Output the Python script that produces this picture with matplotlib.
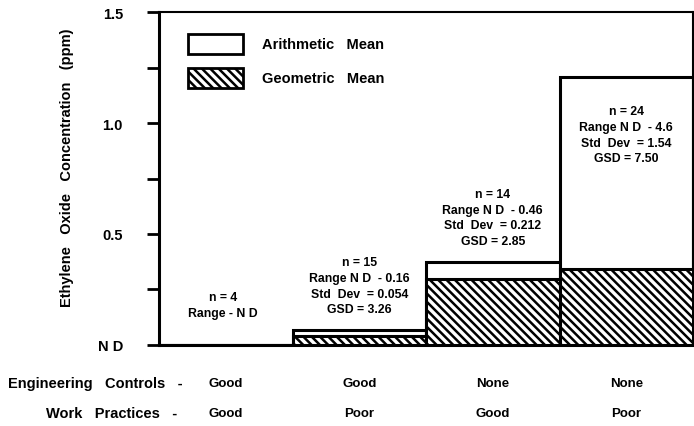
import matplotlib
matplotlib.use("Agg")
import matplotlib.pyplot as plt
from matplotlib.patches import Rectangle

plt.rcParams['font.family'] = ['Liberation Sans', 'DejaVu Sans']
plt.rcParams['font.weight'] = 'bold'
plt.rcParams['hatch.linewidth'] = 1.8

eng_controls = ["Good", "Good", "None", "None"]
work_practices = ["Good", "Poor", "Good", "Poor"]
arith_mean = [0.0, 0.068, 0.375, 1.21]
geo_mean = [0.0, 0.041, 0.296, 0.342]
stats_text = [
    ["n = 4", "Range - N D"],
    ["n = 15", "Range N D  - 0.16", "Std  Dev  = 0.054", "GSD = 3.26"],
    ["n = 14", "Range N D  - 0.46", "Std  Dev  = 0.212", "GSD = 2.85"],
    ["n = 24", "Range N D  - 4.6", "Std  Dev  = 1.54", "GSD = 7.50"],
]
text_top = [0.215, 0.373, 0.680, 1.054]
yticks = [0, 0.25, 0.5, 0.75, 1.0, 1.25, 1.5]
yticklabels = ["N D", "", "0.5", "", "1.0", "", "1.5"]

fig = plt.figure(figsize=(6.94, 4.27), dpi=100)
ax = fig.add_axes([159/694, 1-345.7/427, 534/694, (345.7-13.3)/427])
x = list(range(len(arith_mean)))
ax.bar(x, arith_mean, width=1.0, color='white', edgecolor='black', linewidth=2.2, zorder=2)
ax.bar(x, geo_mean, width=1.0, color='white', edgecolor='black', linewidth=2.2,
       hatch='\\\\\\\\', zorder=3)
ax.set_xlim(-0.5, 3.5)
ax.set_ylim(0, 1.5)
for s in ['top', 'right']:
    ax.spines[s].set_linewidth(1.5)
ax.spines['left'].set_linewidth(2.2)
ax.spines['bottom'].set_linewidth(2.2)
ax.set_xticks([])
ax.set_yticks(yticks)
ax.set_yticklabels(yticklabels, fontsize=10.5, fontweight='bold')
ax.tick_params(axis='y', length=9, width=2, pad=17)
ax.set_ylabel("Ethylene   Oxide   Concentration   (ppm)", fontsize=10.5, fontweight='bold')
ax.yaxis.set_label_coords(-0.16, 0.535)

dy = 0.071
for i, lines in enumerate(stats_text):
    for j, line in enumerate(lines):
        ax.text(i - (0.02 if i == 0 else 0), text_top[i] - j * dy, line, ha='center', va='center',
                fontsize=8.8, fontweight='bold', zorder=5)

# legend
lx0, lx1 = (188-159)/534*4 - 0.5, (243-159)/534*4 - 0.5
for yp, hatch, lab in [(1.357, None, "Arithmetic   Mean"), (1.205, '\\\\\\\\', "Geometric   Mean")]:
    r = Rectangle((lx0, yp - 0.045), lx1 - lx0, 0.09, facecolor='white', edgecolor='black',
                  linewidth=2, hatch=hatch, zorder=5)
    ax.add_patch(r)
    ax.text((262-159)/534*4 - 0.5, yp, lab, ha='left', va='center', fontsize=10.5,
            fontweight='bold', zorder=5)

# category labels below axis
for i in range(4):
    xf = ax.transData.transform((i, 0))[0] / fig.bbox.width
    fig.text(xf, 1-384/427, eng_controls[i], ha='center', va='center', fontsize=9.5, fontweight='bold')
    fig.text(xf, 1-414/427, work_practices[i], ha='center', va='center', fontsize=9.5, fontweight='bold')
fig.text(183/694, 1-384/427, "Engineering   Controls   -", ha='right', va='center', fontsize=10.5, fontweight='bold')
fig.text(177/694, 1-414/427, "Work   Practices   -", ha='right', va='center', fontsize=10.5, fontweight='bold')

fig.savefig("out.png", dpi=100)
